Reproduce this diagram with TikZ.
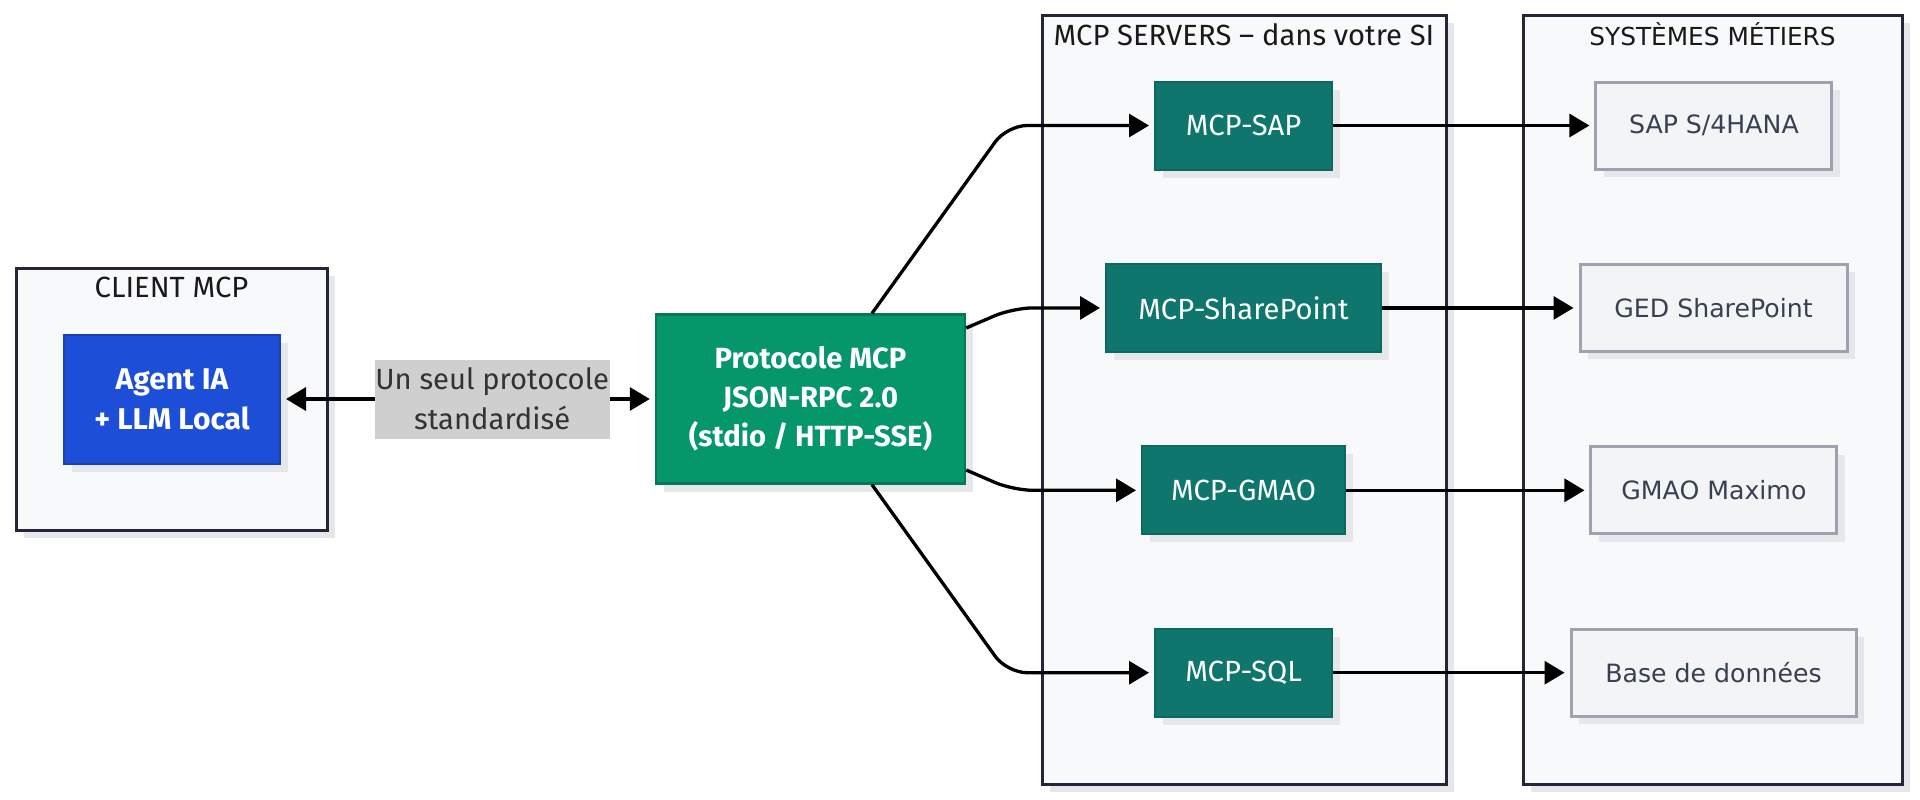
\documentclass[tikz,border=0pt]{standalone}
\usepackage{fontspec}
\setmainfont{Fira Sans}
\newfontfamily\sysfont{DejaVu Sans}
\usetikzlibrary{positioning,shadows,arrows.meta}

\definecolor{agentblue}{HTML}{1D4ED8}
\definecolor{agentedge}{HTML}{1E3FAF}
\definecolor{protogreen}{HTML}{059669}
\definecolor{protoedge}{HTML}{047857}
\definecolor{srvteal}{HTML}{0F766E}
\definecolor{srvedge}{HTML}{0C675F}
\definecolor{sysfill}{HTML}{F3F4F6}
\definecolor{sysedge}{HTML}{9CA3AF}
\definecolor{systext}{HTML}{374151}
\definecolor{groupfill}{HTML}{F8F9FB}
\definecolor{groupedge}{HTML}{25253A}
\definecolor{labelgray}{HTML}{CFCFCF}
\definecolor{shadegray}{HTML}{E6E7EA}

\begin{document}
\begin{tikzpicture}[x=0.5pt, y=-0.5pt, font=\fontsize{14.6}{20}\selectfont, >={Triangle[length=10pt, width=11.5pt]},
    shadowed/.style = {drop shadow={shadow xshift=4pt, shadow yshift=-4pt, fill=shadegray, opacity=1}},
    group/.style = {draw=groupedge, fill=groupfill, line width=1.5pt, shadowed},
    grouptitle/.style = {text=black!90},
    srv/.style = {draw=srvedge, fill=srvteal, text=white, line width=1pt, minimum height=44pt, shadowed},
    sys/.style = {draw=sysedge, fill=sysfill, text=systext, line width=1.5pt, minimum height=43.5pt, font=\sysfont\fontsize{12.6}{16}\selectfont, shadowed},
    link/.style = {line width=1.65pt, ->, shorten >=2.5pt},
    curvelink/.style = {link, rounded corners=10pt}]
    \useasboundingbox (0,0) rectangle (1920,799);

    \node[group, minimum width=155.5pt, minimum height=131pt] (client) at (171.5,399) {};
    \node[group, minimum width=202pt, minimum height=384.5pt] (servers) at (1244,399.5) {};
    \node[group, minimum width=189.5pt, minimum height=384.5pt] (systems) at (1712.5,399.5) {};
    \node[grouptitle] (clienttitle) at ([yshift=-10.5pt]client.north) {CLIENT MCP};
    \node[grouptitle] (serverstitle) at ([yshift=-10.5pt]servers.north) {MCP SERVERS – dans votre SI};
    \node[grouptitle, font=\sysfont\fontsize{12.4}{16}\selectfont] (systemstitle) at ([yshift=-10.5pt]systems.north) {SYSTÈMES MÉTIERS};

    \node[draw=agentedge, fill=agentblue, text=white, line width=1pt, minimum width=108pt, minimum height=64.5pt, align=center, font=\fontsize{15}{20}\selectfont\bfseries, shadowed] (agent) at (172,399) {Agent IA\\+ LLM Local};
    \node[draw=protoedge, fill=protogreen, text=white, line width=1.2pt, minimum width=154.5pt, minimum height=84.5pt, align=center, font=\fontsize{14.6}{19.6}\selectfont\bfseries, shadowed] (proto) at (810.5,399) {Protocole MCP\\JSON-RPC 2.0\\(stdio / HTTP-SSE)};

    \node[srv, minimum width=88.5pt] (srvsap) at (1243.5,125.5) {MCP-SAP};
    \node[srv, minimum width=137.5pt] (srvshare) [below of = srvsap, node distance=91.2pt] {MCP-SharePoint};
    \node[srv, minimum width=101.5pt] (srvgmao) [below of = srvshare, node distance=91.2pt] {MCP-GMAO};
    \node[srv, minimum width=88.5pt] (srvsql) [below of = srvgmao, node distance=91.2pt] {MCP-SQL};

    \node[sys, minimum width=118pt] (syssap) [right of = srvsap, node distance=235.2pt] {SAP S/4HANA};
    \node[sys, minimum width=133.5pt] (sysged) [right of = srvshare, node distance=235pt] {GED SharePoint};
    \node[sys, minimum width=123pt] (sysgmao) [right of = srvgmao, node distance=235.2pt] {GMAO Maximo};
    \node[sys, minimum width=142.5pt] (sysbase) [right of = srvsql, node distance=235pt] {Base de données};

    \draw[link, <->, shorten <=2.5pt] (agent) -- node[pos=0.565, fill=labelgray, text=black!80, align=center, minimum width=117.5pt, minimum height=39.5pt, inner sep=0pt] (lbl) {Un seul protocole\\standardisé} (proto);

    \coordinate (sapout) at ([xshift=30.75pt]proto.north);
    \coordinate (sapbend) at (1007,125.5);
    \coordinate (shareout) at ([yshift=35.5pt]proto.east);
    \coordinate (sharebend) at (1013,307.9);
    \coordinate (gmaoout) at ([yshift=-35.5pt]proto.east);
    \coordinate (gmaobend) at (1013,490.3);
    \coordinate (sqlout) at ([xshift=30.75pt]proto.south);
    \coordinate (sqlbend) at (1007,672.7);
    \draw[curvelink] (sapout) -- (sapbend) -- (srvsap);
    \draw[curvelink] (shareout) -- (sharebend) -- (srvshare);
    \draw[curvelink] (gmaoout) -- (gmaobend) -- (srvgmao);
    \draw[curvelink] (sqlout) -- (sqlbend) -- (srvsql);

    \draw[link] (srvsap) -- (syssap);
    \draw[link] (srvshare) -- (sysged);
    \draw[link] (srvgmao) -- (sysgmao);
    \draw[link] (srvsql) -- (sysbase);
\end{tikzpicture}
\end{document}
